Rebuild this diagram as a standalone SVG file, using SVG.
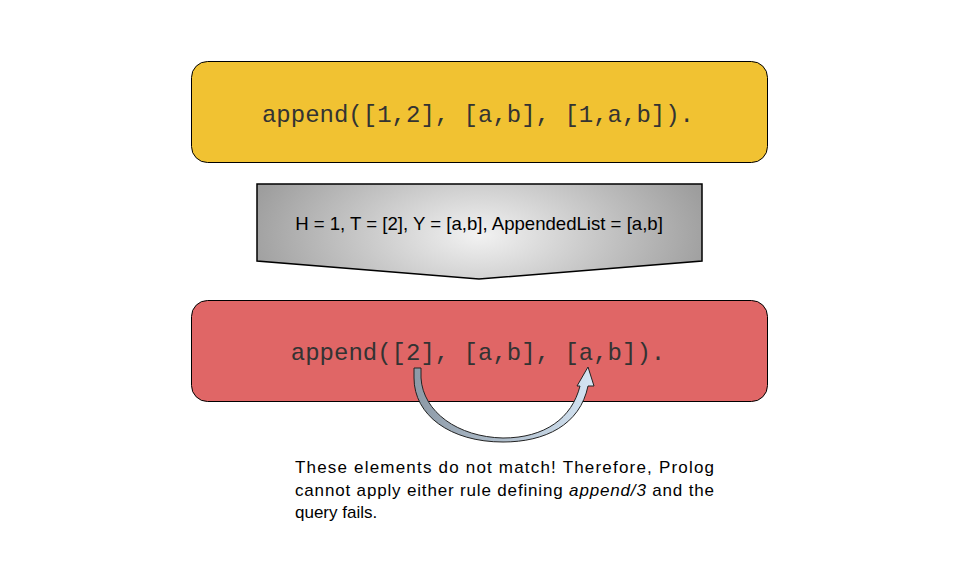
<svg xmlns="http://www.w3.org/2000/svg" width="959" height="565" viewBox="0 0 959 565">
<defs>
<radialGradient id="grayGrad" cx="479" cy="235" r="260" gradientUnits="userSpaceOnUse" gradientTransform="translate(479 235) scale(1 0.5) translate(-479 -235)">
<stop offset="0" stop-color="#f2f2f2"/>
<stop offset="0.9" stop-color="#9e9e9e"/>
<stop offset="1" stop-color="#999999"/>
</radialGradient>
<linearGradient id="arrowGrad" x1="414" y1="0" x2="597" y2="0" gradientUnits="userSpaceOnUse">
<stop offset="0" stop-color="#8c99a6"/>
<stop offset="1" stop-color="#d6e6f5"/>
</linearGradient>
<style>
.box{stroke:#000;stroke-width:1}
.code{font-family:"Liberation Mono","Courier New",monospace;font-size:24px;fill:#333;text-anchor:middle}
.sans{font-family:"Liberation Sans",Arial,sans-serif;font-size:17px;fill:#000}
</style>
</defs>
<rect width="959" height="565" fill="#fff"/>
<g id="query1">
<rect class="box" x="191.5" y="61.5" width="576" height="101" rx="16" fill="#f1c232"/>
<text class="code" x="478" y="122">append([1,2], [a,b], [1,a,b]).</text>
</g>
<g id="unify">
<path d="M257,184 L702,184 L702,261 L479,279 L257,261 Z" fill="url(#grayGrad)" stroke="#000" stroke-width="1.5"/>
<text class="sans" x="479" y="230" text-anchor="middle" style="font-size:18.6px">H = 1, T = [2], Y = [a,b], AppendedList = [a,b]</text>
</g>
<g id="query2">
<rect class="box" x="191.5" y="300.5" width="576" height="101" rx="16" fill="#e06666"/>
<text class="code" x="478" y="360">append([2], [a,b], [a,b]).</text>
</g>
<g id="connectors">
<path d="M414,368 L421,368 L421,378 C423,412 458,437 503,438 C545,438 572,418 580,386 L577,386 L588,367 L594,386 L588,386 C580,425 545,442 503,442 C450,442 414,415 414,378 Z" fill="url(#arrowGrad)" stroke="#222" stroke-width="1" stroke-linejoin="round"/>
</g>
<g id="note">
<text class="sans" x="295" y="473" textLength="419" lengthAdjust="spacing">These elements do not match! Therefore, Prolog</text>
<text class="sans" x="295" y="496" textLength="419" lengthAdjust="spacing">cannot apply either rule defining <tspan font-style="italic">append/3</tspan> and the</text>
<text class="sans" x="295" y="518">query fails.</text>
</g>
</svg>
